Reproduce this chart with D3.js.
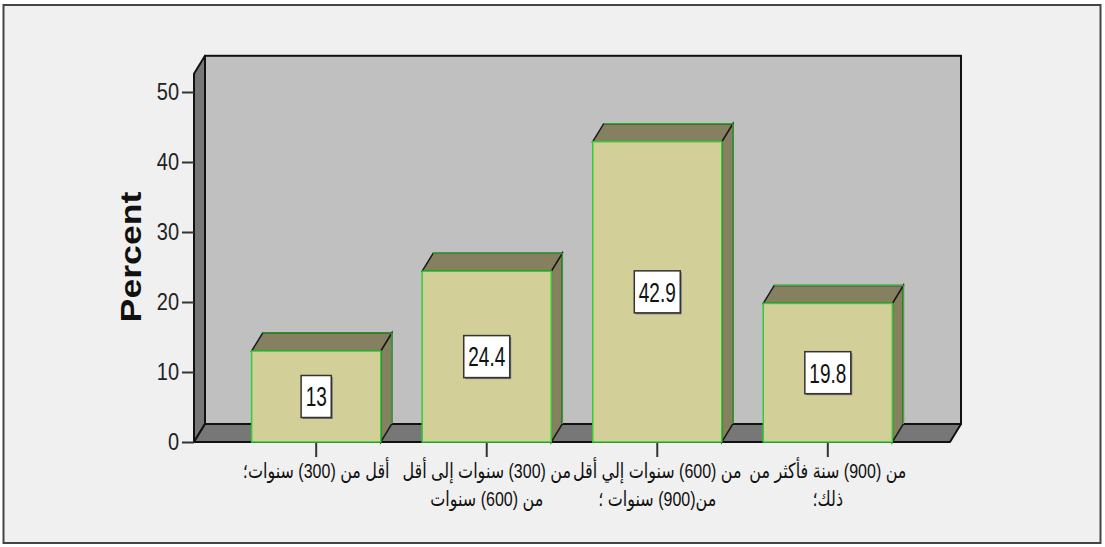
<!DOCTYPE html>
<html>
<head>
<meta charset="utf-8">
<script src="https://cdn.jsdelivr.net/npm/d3@7"></script>
<style>
  body { margin: 0; background: #fff; }
  svg { display: block; }
</style>
</head>
<body>
<div id="chart"></div>
<script>
// categories: each label is a list of wrapped lines
var categories = [
  ["أقل من (300) سنوات؛"],
  ["من (300) سنوات إلى أقل", "من (600) سنوات"],
  ["من (600) سنوات إلي أقل", "من(900) سنوات ؛"],
  ["من (900) سنة فأكثر من", "ذلك؛"]
];
var percents = [13, 24.4, 42.9, 19.8];
var percentLabels = ["13", "24.4", "42.9", "19.8"];
var yTicks = [0, 10, 20, 30, 40, 50];
var yTop = 52.6; // top of the back wall in data units
var yTitle = "Percent";

var w = 1105, h = 547;
var depthX = 11, depthY = 18; // 3d offset of the back plane

var svg = d3.select("#chart").append("svg")
    .attr("width", w)
    .attr("height", h);

// outer frame
svg.append("rect")
    .attr("x", 3.5).attr("y", 5)
    .attr("width", 1097).attr("height", 538)
    .attr("fill", "#f0f0f0")
    .attr("stroke", "#444")
    .attr("stroke-width", 2);

var idx = d3.range(categories.length);
var x = d3.scaleBand()
    .domain(idx)
    .range([194, 950])
    .paddingInner(0.243)
    .paddingOuter(0.338);
var y = d3.scaleLinear()
    .domain([0, 50])
    .range([442, 92]);

var x0 = x.range()[0], x1 = x.range()[1];
var yb = y(0), yt = y(yTop);

function poly(pts) {
  return "M" + pts.map(function(p) { return p[0] + "," + p[1]; }).join("L") + "Z";
}

// back wall
svg.append("rect")
    .attr("x", x0 + depthX).attr("y", yt - depthY)
    .attr("width", x1 - x0).attr("height", yb - yt)
    .attr("fill", "#c0c0c0")
    .attr("stroke", "#111")
    .attr("stroke-width", 2);

// left side wall
svg.append("path")
    .attr("d", poly([[x0, yb], [x0, yt], [x0 + depthX, yt - depthY], [x0 + depthX, yb - depthY]]))
    .attr("fill", "#777")
    .attr("stroke", "#111")
    .attr("stroke-width", 2)
    .attr("stroke-linejoin", "round");

// floor
svg.append("path")
    .attr("d", poly([[x0, yb], [x0 + depthX, yb - depthY], [x1 + depthX, yb - depthY], [x1, yb]]))
    .attr("fill", "#777")
    .attr("stroke", "#111")
    .attr("stroke-width", 2)
    .attr("stroke-linejoin", "round");

// y axis
var yAxis = svg.append("g")
    .attr("transform", "translate(" + x0 + ",0)")
    .call(d3.axisLeft(y).tickValues(yTicks).tickSize(12).tickPadding(3));
yAxis.select(".domain").remove();
yAxis.selectAll(".tick line").attr("stroke", "#333").attr("stroke-width", 2);
yAxis.selectAll(".tick text")
    .attr("fill", "#222")
    .style("font-family", "Liberation Sans, Arial, sans-serif")
    .style("font-size", "20px")
    .attr("transform", "scale(1,1.2)");

// y title
svg.append("text")
    .attr("transform", "translate(141,257) rotate(-90) scale(1.23,1)")
    .attr("text-anchor", "middle")
    .attr("fill", "#111")
    .style("font-family", "Liberation Sans, Arial, sans-serif")
    .style("font-weight", "bold")
    .style("font-size", "29px")
    .text(yTitle);

// x axis ticks
var xAxis = svg.append("g")
    .attr("transform", "translate(0," + yb + ")")
    .call(d3.axisBottom(x).tickSize(15).tickFormat(""));
xAxis.select(".domain").remove();
xAxis.selectAll(".tick line").attr("stroke", "#333").attr("stroke-width", 2);

// bars
var bw = x.bandwidth();
var bars = svg.selectAll(".bar")
    .data(idx)
    .enter().append("g")
    .attr("class", "bar");

bars.append("path") // side
    .attr("d", function(i) {
      var bx = x(i) + bw, by = y(percents[i]);
      return poly([[bx, yb], [bx, by], [bx + depthX, by - depthY], [bx + depthX, yb - depthY]]);
    })
    .attr("fill", "#858160")
    .attr("stroke", "#1a1a1a")
    .attr("stroke-width", 1.5);
bars.append("path") // top
    .attr("d", function(i) {
      var bx = x(i), by = y(percents[i]);
      return poly([[bx, by], [bx + depthX, by - depthY], [bx + bw + depthX, by - depthY], [bx + bw, by]]);
    })
    .attr("fill", "#858160")
    .attr("stroke", "#1a1a1a")
    .attr("stroke-width", 1.5);
bars.append("path") // green top edge highlight
    .attr("d", function(i) {
      var bx = x(i), by = y(percents[i]);
      return "M" + (bx + depthX) + "," + (by - depthY) + "L" + (bx + bw + depthX) + "," + (by - depthY) +
             "L" + (bx + bw + depthX) + "," + (yb - depthY);
    })
    .attr("fill", "none")
    .attr("stroke", "#3c3")
    .attr("stroke-width", 1);
bars.append("rect") // front
    .attr("x", function(i) { return x(i); })
    .attr("y", function(i) { return y(percents[i]); })
    .attr("width", bw)
    .attr("height", function(i) { return yb - y(percents[i]); })
    .attr("fill", "#d3cf98")
    .attr("stroke", "#3c3")
    .attr("stroke-width", 1.5);

// value labels
var labels = bars.append("g")
    .attr("transform", function(i) {
      return "translate(" + (x(i) + bw / 2) + "," + y(percents[i] / 2) + ")";
    });
labels.append("text")
    .attr("class", "val")
    .attr("text-anchor", "middle")
    .attr("transform", "translate(0,9.8) scale(1,1.45)")
    .attr("fill", "#111")
    .style("font-family", "Liberation Sans, Arial, sans-serif")
    .style("font-size", "19px")
    .text(function(i) { return percentLabels[i]; });
labels.each(function() {
  var g = d3.select(this);
  var tw = g.select("text").node().getComputedTextLength();
  var bwid = tw + 9, bh = 42;
  g.insert("rect", "text")
      .attr("x", -bwid / 2 + 1.5).attr("y", -bh / 2 + 1.5)
      .attr("width", bwid).attr("height", bh)
      .attr("fill", "#777");
  g.insert("rect", "text")
      .attr("x", -bwid / 2).attr("y", -bh / 2)
      .attr("width", bwid).attr("height", bh)
      .attr("fill", "#fff")
      .attr("stroke", "#333")
      .attr("stroke-width", 1.5);
});

// category labels
var catText = svg.selectAll(".cat")
    .data(idx)
    .enter().append("g")
    .attr("class", "cat")
    .attr("transform", function(i) { return "translate(" + (x(i) + bw / 2) + ",0)"; });
catText.each(function(i) {
  var g = d3.select(this);
  categories[i].forEach(function(line, k) {
    g.append("text")
        .attr("direction", "rtl")
        .attr("text-anchor", "middle")
        .attr("transform", "translate(0," + (478 + k * 28) + ") scale(1,1.3)")
        .attr("fill", "#111")
        .style("font-family", "Liberation Sans, DejaVu Sans, sans-serif")
        .style("font-size", "16px")
        .text(line);
  });
});
</script>
</body>
</html>
